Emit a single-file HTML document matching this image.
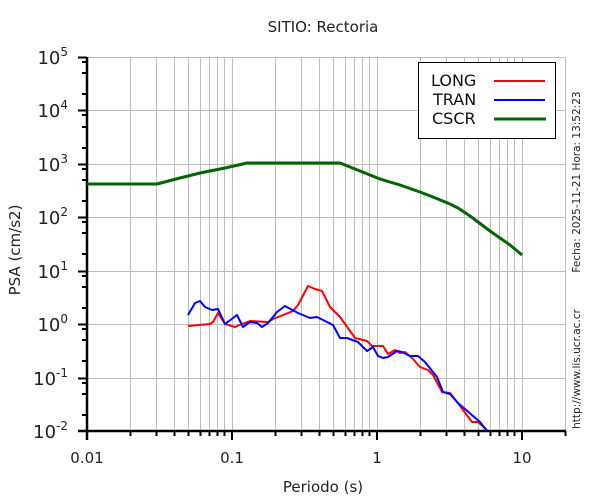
<!DOCTYPE html>
<html><head><meta charset="utf-8"><style>
html,body{margin:0;padding:0;background:#fff;}
svg{display:block;font-family:"DejaVu Sans","Liberation Sans",sans-serif;}
</style></head><body>
<svg width="600" height="500" viewBox="0 0 600 500" xmlns="http://www.w3.org/2000/svg">
<g stroke="#bdbdbd" stroke-width="1" fill="none">
<!-- horizontal decade grid -->
<path d="M87 57.5H566M87 110.5H566M87 164.5H566M87 217.5H566M87 271.5H566M87 324.5H566M87 378.5H566"/>
<!-- vertical grid -->
<path d="M130.5 57V431M156.5 57V431M174.5 57V431M188.5 57V431M200.5 57V431M209.5 57V431M217.5 57V431M224.5 57V431M232.5 57V431
M275.5 57V431M301.5 57V431M319.5 57V431M333.5 57V431M345.5 57V431M354.5 57V431M362.5 57V431M369.5 57V431M377.5 57V431
M420.5 57V431M446.5 57V431M464.5 57V431M478.5 57V431M490.5 57V431M499.5 57V431M507.5 57V431M514.5 57V431M522.5 57V431
M565.5 57V431"/>
</g>
<!-- axes -->
<g stroke="#000" stroke-width="2.5" fill="none">
<path d="M87 57V440M78 431H566"/>
</g>
<g stroke="#000" stroke-width="2" fill="none">
<path d="M78 57.5H87M78 110.5H87M78 164.5H87M78 217.5H87M78 271.5H87M78 324.5H87M78 378.5H87"/>
<path d="M82 62H87M82 73H87M82 94H87M82 115H87M82 127H87M82 148H87M82 169H87M82 180H87M82 201H87M82 222H87M82 233H87M82 254H87M82 276H87M82 287H87M82 308H87M82 329H87M82 340H87M82 361H87M82 383H87M82 394H87M82 415H87"/>
<path d="M232 431V440M377 431V440M522 431V440"/>
<path d="M130.5 431V436M156.5 431V436M174.5 431V436M188.5 431V436M200.5 431V436M209.5 431V436M217.5 431V436M224.5 431V436
M275.5 431V436M301.5 431V436M319.5 431V436M333.5 431V436M345.5 431V436M354.5 431V436M362.5 431V436M369.5 431V436
M420.5 431V436M446.5 431V436M464.5 431V436M478.5 431V436M490.5 431V436M499.5 431V436M507.5 431V436M514.5 431V436M565.5 431V436"/>
</g>
<!-- y labels -->
<g font-size="18" fill="#222" text-anchor="end">
<text x="68" y="64">10<tspan dy="-8" font-size="12">5</tspan></text>
<text x="68" y="117">10<tspan dy="-8" font-size="12">4</tspan></text>
<text x="68" y="171">10<tspan dy="-8" font-size="12">3</tspan></text>
<text x="68" y="224">10<tspan dy="-8" font-size="12">2</tspan></text>
<text x="68" y="278">10<tspan dy="-8" font-size="12">1</tspan></text>
<text x="68" y="331">10<tspan dy="-8" font-size="12">0</tspan></text>
<text x="68" y="385">10<tspan dy="-8" font-size="12">-1</tspan></text>
<text x="68" y="438">10<tspan dy="-8" font-size="12">-2</tspan></text>
</g>
<g font-size="15" fill="#222" text-anchor="middle">
<text x="87" y="463">0.01</text>
<text x="232" y="463">0.1</text>
<text x="377" y="463">1</text>
<text x="522" y="463">10</text>
<text x="323" y="492">Periodo (s)</text>
<text x="323" y="32">SITIO: Rectoria</text>
<text transform="translate(20,250) rotate(-90)">PSA (cm/s2)</text>
</g>
<g font-size="10.5" fill="#222" text-anchor="middle">
<text transform="translate(580,182) rotate(-90)">Fecha: 2025-11-21  Hora: 13:52:23</text>
<text transform="translate(580,369) rotate(-90)">http://www.lis.ucr.ac.cr</text>
</g>
<!-- series -->
<g fill="none" stroke-linejoin="round">
<polyline stroke="#006400" stroke-width="3" points="87,184 157,184 180,178 200,173 225,168 247,163 340,163 360,171 380,179 400,185 420,192 433,197 450,204 458,208 470,216 490,231 510,245 522,255"/>
<polyline stroke="#ff0000" stroke-width="2" points="188,326 210,324 213,322 218,313 225,324 235,327 242,324 250,321 268,322 273,319 293,311 298,305 308,286 315,289 322,291 330,307 340,317 355,338 367,341 372,346 383,346 388,354 395,350 400,353 405,352 413,359 420,367 428,370 433,375 442,392 450,393 457,402 472,422 478,422 487,430"/>
<polyline stroke="#0000ff" stroke-width="2" points="188,315 195,303 200,301 205,307 212,310 218,309 225,324 237,315 243,327 250,322 257,323 262,327 268,323 277,312 285,306 298,313 310,318 317,317 327,322 333,325 340,338 347,338 358,342 367,351 373,347 378,356 383,358 388,357 397,351 402,352 410,356 418,356 425,362 437,377 443,392 450,394 458,403 480,422 487,431"/>
</g>
<!-- legend -->
<rect x="418.5" y="62.5" width="137" height="76" fill="#fff" stroke="#000" stroke-width="1"/>
<g font-size="16" fill="#111">
<text x="431" y="86">LONG</text>
<text x="433" y="105">TRAN</text>
<text x="432" y="124">CSCR</text>
</g>
<path d="M494 81H545" stroke="#ff0000" stroke-width="2"/>
<path d="M494 100H545" stroke="#0000ff" stroke-width="2"/>
<path d="M494 119H546" stroke="#006400" stroke-width="3"/>
</svg>
</body></html>
